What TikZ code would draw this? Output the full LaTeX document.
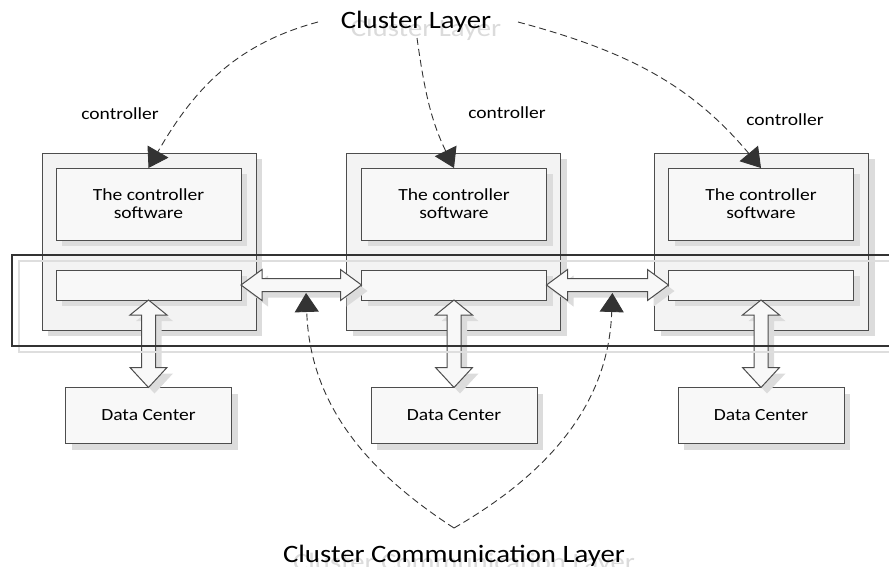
\documentclass[tikz,border=0pt]{standalone}
\usepackage{fontspec}
\setmainfont[FakeStretch=1.15]{Carlito}
\usetikzlibrary{arrows.meta,positioning,calc,shadows}
\definecolor{linegray}{HTML}{4D4D4D}
\definecolor{boxfill}{HTML}{F3F3F3}
\definecolor{innerfill}{HTML}{F8F8F8}
\definecolor{shadegray}{HTML}{DCDCDC}
\newcommand{\boxfont}{\fontsize{17}{18}\selectfont}
\newcommand{\layerfont}{\fontsize{25}{28}\selectfont}
% hollow double arrow, left to right
\newcommand{\hblock}[2]{\draw[blockpil] (#1) -- ++(21,15.5) -- ++(0,-9) -- ($(#2)+(-21,6.5)$) -- ++(0,9) -- (#2) -- ++(-21,-15.5) -- ++(0,9) -- ($(#1)+(21,-6.5)$) -- ++(0,-9) -- cycle;}
% hollow double arrow, top to bottom
\newcommand{\vblock}[2]{\draw[blockpil] (#1) -- ++(18.5,-15) -- ++(-11.5,0) -- ($(#2)+(7,20)$) -- ++(11.5,0) -- (#2) -- ++(-18.5,20) -- ++(11.5,0) -- ($(#1)+(-7,-15)$) -- ++(-11.5,0) -- cycle;}
\tikzset{
    %Define standard arrow tip
    >={Triangle[length=19pt,width=24pt]},
    every node/.style={align=center},
    %Define style for boxes
    boxshadow/.style={
           drop shadow={shadow xshift=6pt, shadow yshift=-6pt,
                        fill=shadegray, opacity=1}},
    ctlbox/.style={
           rectangle,
           draw=linegray, line width=1pt,
           fill=boxfill,
           minimum width=214pt,
           minimum height=177pt,
           inner sep=0pt, outer sep=0pt,
           boxshadow},
    swbox/.style={
           rectangle,
           draw=linegray, line width=1pt,
           fill=innerfill,
           minimum width=185pt,
           minimum height=72pt,
           inner sep=0pt, outer sep=0pt,
           font=\boxfont,
           boxshadow},
    slot/.style={
           swbox,
           minimum height=30pt},
    dcbox/.style={
           swbox,
           minimum width=166pt,
           minimum height=56pt},
    lbl/.style={font=\boxfont, anchor=base},
    layer/.style={font=\layerfont, anchor=base},
    ghost/.style={layer, text=black!14},
    band/.style={
           rectangle,
           draw=black!80, line width=1.5pt,
           inner sep=0pt, outer sep=0pt},
    bandshadow/.style={draw=black!13, line width=1.2pt},
    % Define arrow styles
    dashpil/.style={
           ->,
           draw=black!80, fill=none,
           line width=0.9pt,
           dash pattern=on 7pt off 4pt},
    blockpil/.style={
           draw=linegray, line width=1pt,
           fill=innerfill,
           boxshadow}
}
\begin{document}
\begin{tikzpicture}[x=1pt, y=1pt]
\useasboundingbox (0,0) rectangle (889,-566);
\clip (0,0) rectangle (889,-566);

%controller 1
\node[ctlbox] (ctl1) at (149,-241.5) {};
\node[swbox] (sw1) at (148.5,-204) {The controller\\software};
\node[slot, below=30pt of sw1] (bar1) {};
\node[dcbox, below=87.5pt of bar1] (dc1) {Data Center};

%controller 2
\node[ctlbox] (ctl2) at (453.5,-241.5) {};
\node[swbox] (sw2) at (454,-204) {The controller\\software};
\node[slot, below=30pt of sw2] (bar2) {};
\node[dcbox, below=87.5pt of bar2] (dc2) {Data Center};

%controller 3
\node[ctlbox] (ctl3) at (761.5,-241.5) {};
\node[swbox] (sw3) at (761,-204) {The controller\\software};
\node[slot, below=30pt of sw3] (bar3) {};
\node[dcbox, below=87.5pt of bar3] (dc3) {Data Center};

%links between the controllers
\hblock{bar1.east}{bar2.west}
\hblock{bar2.east}{bar3.west}

%links to the data centers
\vblock{bar1.south}{dc1.north}
\vblock{bar2.south}{dc2.north}
\vblock{bar3.south}{dc3.north}

%communication band
\node[band, anchor=north west, minimum width=885pt, minimum height=91pt] (cband) at (12,-255) {};
\draw[bandshadow] ($(cband.north west)+(7,-6)$) rectangle ($(cband.south east)+(7,-6)$);
\node[band, anchor=north west, minimum width=885pt, minimum height=91pt] (cbandtop) at (12,-255) {};

%labels
\node[lbl] (lbl1) at (120,-119.5) {controller};
\node[lbl] (lbl2) at (507,-118) {controller};
\node[lbl] (lbl3) at (785,-125) {controller};

\node[ghost] (ghosttop) at (426,-36.5) {Cluster Layer};
\node[layer] (clusterlayer) at (416,-28.5) {Cluster Layer};
\node[ghost] (ghostbottom) at (464,-570) {Cluster Communication Layer};
\node[layer] (commlayer) at (454,-562) {Cluster Communication Layer};

% cluster layer arrows
\coordinate (topleft) at (318,-22);
\coordinate (topmid) at (417,-38);
\coordinate (topright) at (518,-22);
\draw[dashpil] (topleft) to[out=195, in=60] (sw1.north);
\draw[dashpil] (topmid) to[out=-82, in=116] (sw2.north);
\draw[dashpil] (topright) to[out=-15, in=130] (sw3.north);

% communication layer arrows
\coordinate (apex) at (454,-528);
\coordinate (link12) at ($(bar1.east)!0.54!(bar2.west)+(0,-8)$);
\coordinate (link23) at ($(bar2.east)!0.54!(bar3.west)+(0,-8)$);
\draw[dashpil] (apex) to[out=147, in=-88] (link12);
\draw[dashpil] (apex) to[out=30, in=-92] (link23);

\end{tikzpicture}
\end{document}
